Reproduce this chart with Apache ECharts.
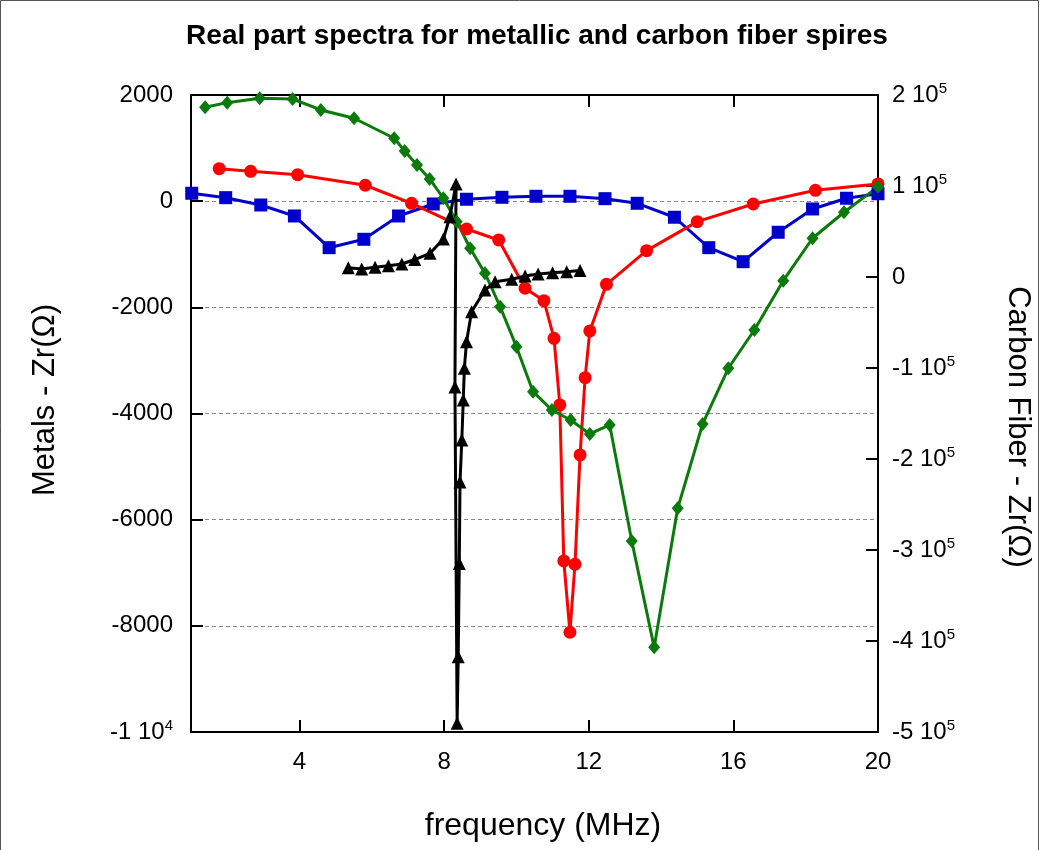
<!DOCTYPE html>
<html>
<head>
<meta charset="utf-8">
<script src="https://cdn.jsdelivr.net/npm/echarts@6/dist/echarts.min.js"></script>
<style>
  html, body { margin: 0; padding: 0; background: #fff; }
  #chart { width: 1040px; height: 850px; }
</style>
</head>
<body>
<div id="chart"></div>
<script>
// ---- data (frequency in MHz, Zr in Ohm) ----
const blueFreq = [1.02, 1.96, 2.93, 3.86, 4.82, 5.78, 6.74, 7.70, 8.62, 9.60, 10.54, 11.48, 12.45, 13.34, 14.37, 15.32, 16.27, 17.24, 18.19, 19.13, 20.0];
const blueZr   = [149, 66, -72, -279, -876, -718, -279, -53, 36, 73, 92, 92, 47, -40, -303, -876, -1140, -586, -147, 55, 140];

const redFreq = [1.78, 2.65, 3.95, 5.82, 7.10, 8.62, 9.51, 10.24, 10.76, 11.04, 11.20, 11.31, 11.48, 11.62, 11.76, 11.90, 12.03, 12.49, 13.60, 15.00, 16.55, 18.27, 20.0];
const redZr   = [612, 563, 499, 300, -40, -524, -731, -1641, -1874, -2583, -3839, -6778, -8121, -6840, -4781, -3325, -2445, -1566, -932, -386, -53, 205, 325];

const greenFreq = [1.39, 2.00, 2.90, 3.81, 4.59, 5.51, 6.62, 6.91, 7.25, 7.60, 7.98, 8.35, 8.72, 9.13, 9.55, 10.00, 10.46, 10.98, 11.50, 12.03, 12.58, 13.19, 13.81, 14.46, 15.15, 15.86, 16.58, 17.38, 18.19, 19.06, 20.0];
const greenZr   = [1769, 1856, 1939, 1925, 1718, 1562, 1185, 946, 682, 418, 55, -386, -887, -1358, -1988, -2741, -3589, -3934, -4122, -4386, -4216, -6401, -8405, -5786, -4197, -3148, -2427, -1498, -699, -209, 270];

const carbonFreq = [5.35, 5.72, 6.09, 6.46, 6.83, 7.19, 7.61, 7.98, 8.16, 8.33, 8.30, 8.36, 8.39, 8.42, 8.44, 8.49, 8.53, 8.56, 8.62, 8.76, 9.13, 9.41, 9.87, 10.24, 10.60, 11.00, 11.39, 11.76];
const carbonZr   = [10200, 8800, 10700, 12400, 14300, 19200, 26000, 41700, 66300, 102200, -120900, -490500, -417300, -314700, -225300, -179100, -135100, -100400, -71100, -38200, -14300, -5200, -2500, 1100, 3300, 4700, 5800, 7100];

const xTicks = [4, 8, 12, 16, 20];
const leftTicks = { min: -10000, max: 2000, step: 2000 };
const rightTicks = { min: -500000, max: 200000, step: 100000 };

function pairs(xs, ys) { return xs.map((x, i) => [x, ys[i]]); }

const chart = echarts.init(document.getElementById('chart'));
const FONT = '"Liberation Sans", Arial, sans-serif';
const TICK = 24;
const supRich = {
  base: { fontSize: TICK, fontFamily: FONT, color: '#000' },
  sup: { fontSize: 15, fontFamily: FONT, color: '#000', padding: [0, 0, 13, 0] }
};

chart.setOption({
  animation: false,
  backgroundColor: '#fff',
  title: {
    text: 'Real part spectra for metallic and carbon fiber spires',
    left: 532, top: 17, textAlign: 'center',
    textStyle: { fontFamily: FONT, fontWeight: 'bold', fontSize: 28, color: '#000' }
  },
  graphic: [{
    type: 'rect', shape: { x: 0.5, y: 0.5, width: 1038, height: 860 },
    style: { fill: 'none', stroke: '#555', lineWidth: 1 }, silent: true
  }, {
    type: 'text', x: 45, y: 400, rotation: Math.PI / 2,
    style: { text: 'Metals - Zr(Ω)', fontFamily: FONT, fontSize: 31, fill: '#000', align: 'center', verticalAlign: 'middle' },
    silent: true
  }, {
    type: 'text', x: 1018, y: 427, rotation: -Math.PI / 2,
    style: { text: 'Carbon Fiber - Zr(Ω)', fontFamily: FONT, fontSize: 31, fill: '#000', align: 'center', verticalAlign: 'middle' },
    silent: true
  }, {
    type: 'text', x: 543, y: 826,
    style: { text: 'frequency (MHz)', fontFamily: FONT, fontSize: 32, fill: '#000', align: 'center', verticalAlign: 'middle' },
    silent: true
  }],
  grid: { left: 191, top: 95, width: 687, height: 637, containLabel: false },
  xAxis: [{
    type: 'value', min: 1, max: 20, position: 'bottom',
    axisLine: { show: true, onZero: false, lineStyle: { color: '#000', width: 2 } },
    axisTick: { show: true, inside: true, length: 12, customValues: xTicks, lineStyle: { color: '#000', width: 2 } },
    axisLabel: { customValues: xTicks, fontFamily: FONT, fontSize: TICK, color: '#000', margin: 18 },
    splitLine: { show: false }
  }, {
    type: 'value', min: 1, max: 20, position: 'top',
    axisLine: { show: true, onZero: false, lineStyle: { color: '#000', width: 2 } },
    axisTick: { show: true, inside: true, length: 12, customValues: xTicks, lineStyle: { color: '#000', width: 2 } },
    axisLabel: { show: false },
    splitLine: { show: false }
  }],
  yAxis: [{
    type: 'value', min: leftTicks.min, max: leftTicks.max, interval: leftTicks.step, position: 'left',
    axisLine: { show: true, onZero: false, lineStyle: { color: '#000', width: 2 } },
    axisTick: { show: true, inside: true, length: 12, lineStyle: { color: '#000', width: 2 } },
    axisLabel: {
      margin: 18, fontFamily: FONT, fontSize: TICK, color: '#000',
      formatter: v => v === -10000 ? '{base|-1 10}{sup|4}' : '{base|' + v + '}',
      rich: supRich
    },
    splitLine: { show: true, lineStyle: { color: '#888', width: 1, type: [4, 3] } }
  }, {
    type: 'value', min: rightTicks.min, max: rightTicks.max, interval: rightTicks.step, position: 'right',
    axisLine: { show: true, onZero: false, lineStyle: { color: '#000', width: 2 } },
    axisTick: { show: true, inside: true, length: 12, lineStyle: { color: '#000', width: 2 } },
    axisLabel: {
      margin: 14, fontFamily: FONT, fontSize: TICK, color: '#000',
      formatter: v => v === 0 ? '{base|0}' : '{base|' + (v / 100000) + ' 10}{sup|5}',
      rich: supRich
    },
    splitLine: { show: false }
  }],
  series: [{
    type: 'line', name: 'blue', xAxisIndex: 0, yAxisIndex: 0,
    data: pairs(blueFreq, blueZr),
    symbol: 'rect', symbolSize: 13, showAllSymbol: true,
    lineStyle: { color: '#0000cc', width: 3 }, itemStyle: { color: '#0000cc' }
  }, {
    type: 'line', name: 'red', xAxisIndex: 0, yAxisIndex: 0,
    data: pairs(redFreq, redZr),
    symbol: 'circle', symbolSize: 13, showAllSymbol: true,
    lineStyle: { color: '#ff0000', width: 3 }, itemStyle: { color: '#ff0000' }
  }, {
    type: 'line', name: 'green', xAxisIndex: 0, yAxisIndex: 0,
    data: pairs(greenFreq, greenZr),
    symbol: 'diamond', symbolSize: [12, 14], showAllSymbol: true,
    lineStyle: { color: '#0a7a0a', width: 3 }, itemStyle: { color: '#0a7a0a' }
  }, {
    type: 'line', name: 'carbon', xAxisIndex: 0, yAxisIndex: 1,
    data: pairs(carbonFreq, carbonZr),
    symbol: 'triangle', symbolSize: 13, showAllSymbol: true,
    lineStyle: { color: '#000', width: 3 }, itemStyle: { color: '#000' }
  }]
});
</script>
</body>
</html>
